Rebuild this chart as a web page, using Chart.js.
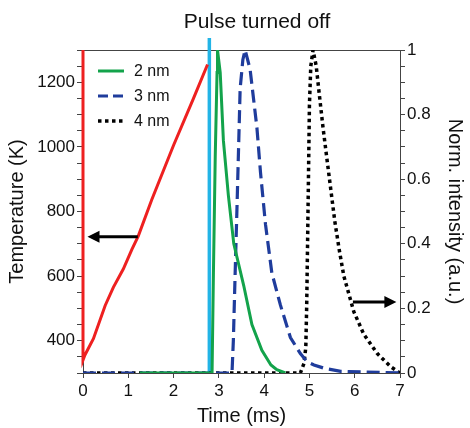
<!DOCTYPE html>
<html>
<head>
<meta charset="utf-8">
<script src="https://cdn.jsdelivr.net/npm/chart.js@4.4.1/dist/chart.umd.min.js"></script>
<style>
  body { margin: 0; background: #fff; }
  canvas { display: block; }
</style>
</head>
<body>
<canvas id="myChart" width="470" height="428"></canvas>
<script>
// temperature (left axis)
const tempTime = [0, 0, 0.04, 0.23, 0.49, 0.67, 0.89, 1.08, 1.22, 1.52, 2.00, 2.44, 2.75]
const tempK = [1300, 340, 355, 406, 509, 565, 622, 683, 724, 837, 1005, 1150, 1255]

// normalized intensity (right axis)
const time2 = [1.25, 2.85, 2.88, 2.92, 2.96, 2.97, 3.03, 3.10, 3.21, 3.33, 3.55, 3.73, 3.95, 4.15, 4.28, 4.47]
const int2 = [0, 0, 0.31, 0.67, 0.93, 1.0, 0.93, 0.72, 0.55, 0.40, 0.27, 0.15, 0.07, 0.025, 0.01, 0]

const time3 = [0, 3.29, 3.32, 3.36, 3.40, 3.44, 3.47, 3.53, 3.58, 3.69, 3.84, 3.92, 4.03, 4.17, 4.36, 4.58, 4.80, 4.95, 5.10, 5.32, 5.69, 7.0]
const int3 = [0, 0, 0.10, 0.31, 0.51, 0.72, 0.88, 0.97, 1.0, 0.94, 0.76, 0.62, 0.46, 0.31, 0.21, 0.11, 0.06, 0.035, 0.025, 0.015, 0.005, 0]

const time4 = [0, 4.80, 4.88, 4.92, 4.94, 4.96, 4.98, 5.00, 5.03, 5.08, 5.15, 5.22, 5.30, 5.38, 5.47, 5.56, 5.66, 5.76, 5.98, 6.20, 6.50, 6.79, 7.0]
const int4 = [0, 0, 0.03, 0.08, 0.21, 0.41, 0.62, 0.83, 0.95, 1.0, 0.95, 0.86, 0.76, 0.67, 0.57, 0.47, 0.38, 0.30, 0.19, 0.12, 0.06, 0.02, 0]

const seriesNames = ['2 nm', '3 nm', '4 nm']
const pulseOffTime = 2.79
// arrows: [xFrom, xTo, y] in data units
const leftArrow = [1.21, 0.1, 722]
const rightArrow = [5.96, 6.92, 0.22]

const FONT = "'Liberation Sans', Arial, sans-serif"

function pts(xs, ys) {
  return xs.map((x, i) => ({ x: x, y: ys[i] }))
}

let data = {
  datasets: [
    {
      label: 'T',
      data: pts(tempTime, tempK),
      yAxisID: 'yT',
      borderColor: '#ee2020',
      borderWidth: 3,
      clip: 4,
    },
    {
      label: seriesNames[0],
      data: pts(time2, int2),
      yAxisID: 'yI',
      borderColor: '#13a34b',
      borderWidth: 3,
    },
    {
      label: seriesNames[1],
      data: pts(time3, int3),
      yAxisID: 'yI',
      borderColor: '#1f3c9c',
      borderWidth: 3.2,
      borderDash: [13, 6],
    },
    {
      label: seriesNames[2],
      data: pts(time4, int4),
      yAxisID: 'yI',
      borderColor: '#000',
      borderWidth: 3.5,
      borderDash: [3.5, 3.5],
    }
  ]
}

function arrow(ctx, x1, x2, y) {
  let dir = x2 > x1 ? 1 : -1
  ctx.strokeStyle = '#000'
  ctx.fillStyle = '#000'
  ctx.lineWidth = 3
  ctx.beginPath()
  ctx.moveTo(x1, y)
  ctx.lineTo(x2 - dir * 8, y)
  ctx.stroke()
  ctx.beginPath()
  ctx.moveTo(x2, y)
  ctx.lineTo(x2 - dir * 12, y - 6)
  ctx.lineTo(x2 - dir * 12, y + 6)
  ctx.closePath()
  ctx.fill()
}

const extras = {
  id: 'extras',
  beforeDatasetsDraw(chart) {
    const ctx = chart.ctx
    const a = chart.chartArea
    const xs = chart.scales.x
    // top frame line
    ctx.save()
    ctx.strokeStyle = '#444'
    ctx.lineWidth = 1
    ctx.beginPath()
    ctx.moveTo(a.left, a.top + 0.5)
    ctx.lineTo(a.right, a.top + 0.5)
    ctx.stroke()
    // pulse turned off marker
    let px = xs.getPixelForValue(pulseOffTime)
    ctx.strokeStyle = '#22b4e6'
    ctx.lineWidth = 3.5
    ctx.beginPath()
    ctx.moveTo(px, a.top - 12)
    ctx.lineTo(px, a.bottom)
    ctx.stroke()
    ctx.restore()
  },
  afterDatasetsDraw(chart) {
    const ctx = chart.ctx
    const xs = chart.scales.x
    const yT = chart.scales.yT
    const yI = chart.scales.yI
    ctx.save()
    arrow(ctx, xs.getPixelForValue(leftArrow[0]), xs.getPixelForValue(leftArrow[1]), yT.getPixelForValue(leftArrow[2]))
    arrow(ctx, xs.getPixelForValue(rightArrow[0]), xs.getPixelForValue(rightArrow[1]), yI.getPixelForValue(rightArrow[2]))

    // legend
    ctx.font = '16px ' + FONT
    ctx.textBaseline = 'middle'
    for (let i = 1; i < 4; i++) {
      const ds = chart.data.datasets[i]
      let y = 71 + (i - 1) * 25
      ctx.strokeStyle = ds.borderColor
      ctx.lineWidth = ds.borderWidth
      ctx.setLineDash(i == 2 ? [10, 5] : (ds.borderDash || []))
      ctx.beginPath()
      ctx.moveTo(98, y)
      ctx.lineTo(124, y)
      ctx.stroke()
      ctx.setLineDash([])
      ctx.fillStyle = '#111'
      ctx.fillText(ds.label, 134, y + 1)
    }

    // title
    ctx.font = '21px ' + FONT
    ctx.textAlign = 'center'
    ctx.fillStyle = '#111'
    ctx.fillText('Pulse turned off', 257, 22)
    ctx.restore()
  }
}

let tickFont = { family: FONT, size: 17 }
let titleFont = { family: FONT, size: 20 }

let options = {
  responsive: false,
  animation: false,
  devicePixelRatio: 1,
  layout: { padding: { top: 50, left: 0, right: 0, bottom: 0 } },
  elements: {
    point: { radius: 0 },
    line: { tension: 0, borderCapStyle: 'butt' }
  },
  plugins: {
    legend: { display: false },
    tooltip: { enabled: false }
  },
  scales: {
    x: {
      type: 'linear',
      min: 0,
      max: 7,
      ticks: { stepSize: 1, font: tickFont, color: '#111', padding: 3, maxRotation: 0 },
      grid: { drawOnChartArea: false, tickLength: 5, color: '#444' },
      border: { color: '#444' },
      title: { display: true, text: 'Time (ms)', font: titleFont, color: '#111', padding: { top: 0, bottom: 0 } },
      afterFit: s => { s.height = 55 }
    },
    yT: {
      type: 'linear',
      position: 'left',
      min: 300,
      max: 1300,
      ticks: {
        stepSize: 50,
        autoSkip: false,
        font: tickFont,
        color: '#111',
        padding: 2,
        callback: v => (v % 200 === 0 && v >= 400 && v <= 1200) ? String(v) : ''
      },
      grid: { drawOnChartArea: false, tickLength: 6, color: '#444' },
      border: { color: '#444' },
      title: { display: true, text: 'Temperature (K)', font: titleFont, color: '#111', padding: { top: 5, bottom: 0 } },
      afterFit: s => { s.width = 83 }
    },
    yI: {
      type: 'linear',
      position: 'right',
      min: 0,
      max: 1,
      ticks: {
        stepSize: 0.05,
        autoSkip: false,
        font: tickFont,
        color: '#111',
        padding: 2,
        callback: v => {
          let r = Math.round(v * 100)
          return r % 20 === 0 ? String(r / 100) : ''
        }
      },
      grid: { drawOnChartArea: false, tickLength: 5, color: '#444' },
      border: { color: '#444' },
      title: { display: true, text: 'Norm. intensity (a.u.)', font: titleFont, color: '#111', padding: { top: 3, bottom: 0 } },
      afterFit: s => { s.width = 70 }
    }
  }
}

let chart = new Chart(document.getElementById('myChart'), {
  type: 'line',
  data: data,
  options: options,
  plugins: [extras]
})
</script>
</body>
</html>
